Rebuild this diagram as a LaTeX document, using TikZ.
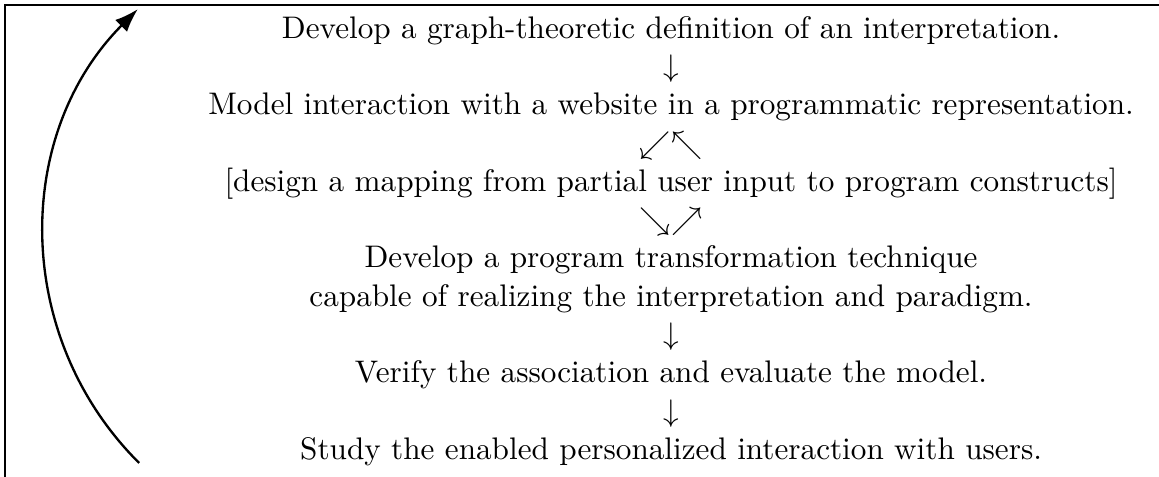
\documentclass[tikz,border=0pt]{standalone}
\usetikzlibrary{arrows.meta}
\begin{document}
\begin{tikzpicture}[x=1pt,y=1pt,
  textline/.style={anchor=base,inner sep=0pt},
  frame/.style={line width=0.7pt},
  loop/.style={line width=0.75pt,-{Latex[length=7.6pt,width=5.4pt]}}]
\useasboundingbox (0,0) rectangle (371.5,-152.6);
% frame edges (left and top)
\draw[frame] (1.6,-156) -- (1.6,-1.6) -- (375,-1.6);
% steps and the arrows between them
\def\cx{215.1}
\def\ls{12.27}
\node[textline] (l1) at (\cx,-1*\ls) {Develop a graph-theoretic definition of an interpretation.};
\node[textline] (a1) at (\cx,-2*\ls) {$\downarrow$};
\node[textline] (l2) at (\cx,-3*\ls) {Model interaction with a website in a programmatic representation.};
\node[textline] (a2) at (\cx,-4*\ls) {$\swarrow\nwarrow$};
\node[textline] (l3) at (\cx,-5*\ls) {[design a mapping from partial user input to program constructs]};
\node[textline] (a3) at (\cx,-6*\ls) {$\searrow\nearrow$};
\node[textline] (l4) at (\cx,-7*\ls) {Develop a program transformation technique};
\node[textline] (l5) at (\cx,-8*\ls) {capable of realizing the interpretation and paradigm.};
\node[textline] (a4) at (\cx,-9*\ls) {$\downarrow$};
\node[textline] (l6) at (\cx,-10*\ls) {Verify the association and evaluate the model.};
\node[textline] (a5) at (\cx,-11*\ls) {$\downarrow$};
\node[textline] (l7) at (\cx,-12*\ls) {Study the enabled personalized interaction with users.};
% feedback loop from the last step back to the first
\coordinate (loopstart) at (44.6,-148.4);
\coordinate (loopend) at (44.2,-2.9);
\draw[loop] (loopstart) to[bend left=45] (loopend);
\end{tikzpicture}
\end{document}
